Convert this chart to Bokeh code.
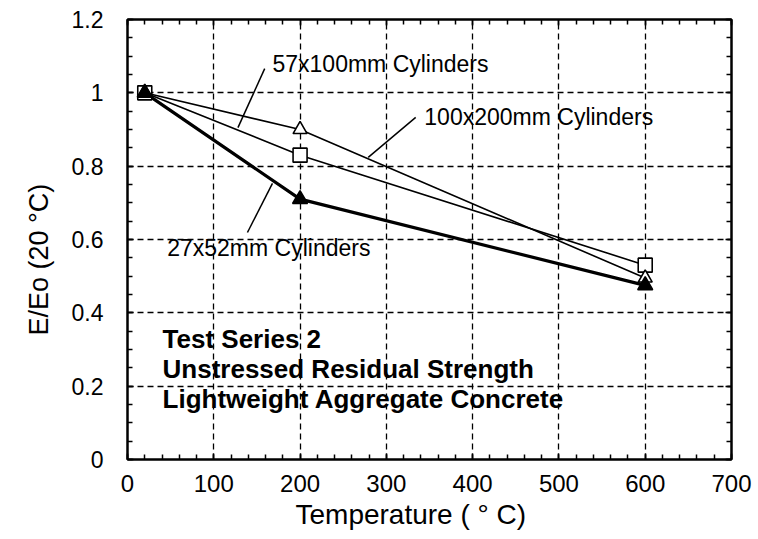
import numpy as np
from bokeh.plotting import figure
from bokeh.models import Range1d, LinearAxis, FixedTicker, Title
from bokeh.core.properties import value
from bokeh.embed import file_html
from bokeh.resources import INLINE

# ---- data ----
temps = [20, 200, 600]
e_57x100 = [1.0, 0.83, 0.53]      # open squares
e_100x200 = [1.0, 0.90, 0.495]    # open triangles
e_27x52 = [1.0, 0.71, 0.475]      # filled triangles

x_ticks = [0, 100, 200, 300, 400, 500, 600, 700]
x_tick_labels = ["0", "100", "200", "300", "400", "500", "600", "700"]
y_ticks = [0, 0.2, 0.4, 0.6, 0.8, 1.0, 1.2]
y_tick_labels = ["0", "0.2", "0.4", "0.6", "0.8", "1", "1.2"]
x_minor = list(range(0, 701, 20))
y_minor = [round(i * 0.05, 2) for i in range(25)]

x_title = "Temperature ( \u00b0 C)"
y_title = "E/Eo (20 \u00b0C)"

series_labels = ["57x100mm Cylinders", "100x200mm Cylinders", "27x52mm Cylinders"]
label_x = [168, 344, 46]
label_y = [1.08, 0.933, 0.578]
leader_x0 = [159, 334, 168]
leader_y0 = [1.066, 0.933, 0.753]
leader_x1 = [128, 279, 139]
leader_y1 = [0.905, 0.824, 0.619]

note_lines = ["Test Series 2", "Unstressed Residual Strength", "Lightweight Aggregate Concrete"]
note_x = 40.6
note_y = [0.33, 0.248, 0.166]

FONT = "Liberation Sans"

p = figure(width=758, height=539, output_backend="svg", toolbar_location=None,
           x_range=Range1d(0, 700), y_range=Range1d(0, 1.2),
           min_border_left=127, min_border_right=27, min_border_top=19,
           min_border_bottom=80)
p.background_fill_color = "white"
p.border_fill_color = "white"
p.outline_line_color = "black"
p.outline_line_width = 2

# grid
for g in (p.xgrid, p.ygrid):
    g.grid_line_color = "black"
    g.grid_line_dash = "6 4"
    g.grid_line_width = 1.3
p.xgrid.ticker = FixedTicker(ticks=x_ticks)
p.ygrid.ticker = FixedTicker(ticks=y_ticks)

def style_axis(ax, ticks, minor, labels, show, size="23px"):
    ax.ticker = FixedTicker(ticks=ticks, minor_ticks=minor)
    ax.axis_line_width = 2
    ax.axis_line_color = "black"
    ax.major_tick_in = 6
    ax.major_tick_out = 0
    ax.minor_tick_in = 5
    ax.minor_tick_out = 0
    ax.major_tick_line_width = 1.5
    ax.minor_tick_line_width = 1.5
    ax.major_tick_line_color = "black"
    ax.minor_tick_line_color = "black"
    if show:
        ax.major_label_overrides = {t: l for t, l in zip(ticks, labels)}
        ax.major_label_text_font = FONT
        ax.major_label_text_font_size = size
        ax.major_label_text_color = "black"
    else:
        ax.major_label_overrides = {t: "" for t in ticks}
        ax.major_label_standoff = 0

xa = p.xaxis[0]
ya = p.yaxis[0]
style_axis(xa, x_ticks, x_minor, x_tick_labels, True, "24px")
style_axis(ya, y_ticks, y_minor, y_tick_labels, True, "23px")
xa.major_label_standoff = 15
ya.major_label_standoff = 24

top = LinearAxis()
style_axis(top, x_ticks, x_minor, x_tick_labels, False)
p.add_layout(top, "above")
right = LinearAxis()
style_axis(right, y_ticks, y_minor, y_tick_labels, False)
p.add_layout(right, "right")

# axis titles as side titles (offset along the axis like the original)
p.add_layout(Title(text=x_title, text_font=FONT, text_font_size="28px",
                   text_font_style="normal", text_color="black",
                   align="left", offset=168, standoff=4), "below")
p.add_layout(Title(text=y_title, text_font=FONT, text_font_size="27px",
                   text_font_style="normal", text_color="black",
                   align="left", offset=124, standoff=30), "left")

# lines
p.line(temps, e_57x100, line_color="black", line_width=1.6)
p.line(temps, e_100x200, line_color="black", line_width=1.6)
p.line(temps, e_27x52, line_color="black", line_width=3.2)

# markers
p.scatter(temps, e_57x100, marker="square", size=14, fill_color="white",
          line_color="black", line_width=1.6)
p.scatter(temps, e_100x200, marker="triangle", size=14, fill_color="white",
          line_color="black", line_width=1.6)
p.scatter(temps, e_27x52, marker="triangle", size=15, fill_color="black",
          line_color="black", line_width=1.5)

# leaders + labels
p.segment(x0=leader_x0, y0=leader_y0, x1=leader_x1, y1=leader_y1,
          line_color="black", line_width=1.5)
p.text(x=label_x, y=label_y, text=series_labels, text_font=value(FONT),
       text_font_size="23px", text_align="left", text_baseline="middle",
       text_color="black")

p.text(x=[note_x] * len(note_lines), y=note_y, text=note_lines, text_font=value(FONT),
       text_font_size="26px", text_font_style="bold", text_align="left",
       text_baseline="middle", text_color="black")

open("out.html", "w").write(file_html(p, INLINE))
